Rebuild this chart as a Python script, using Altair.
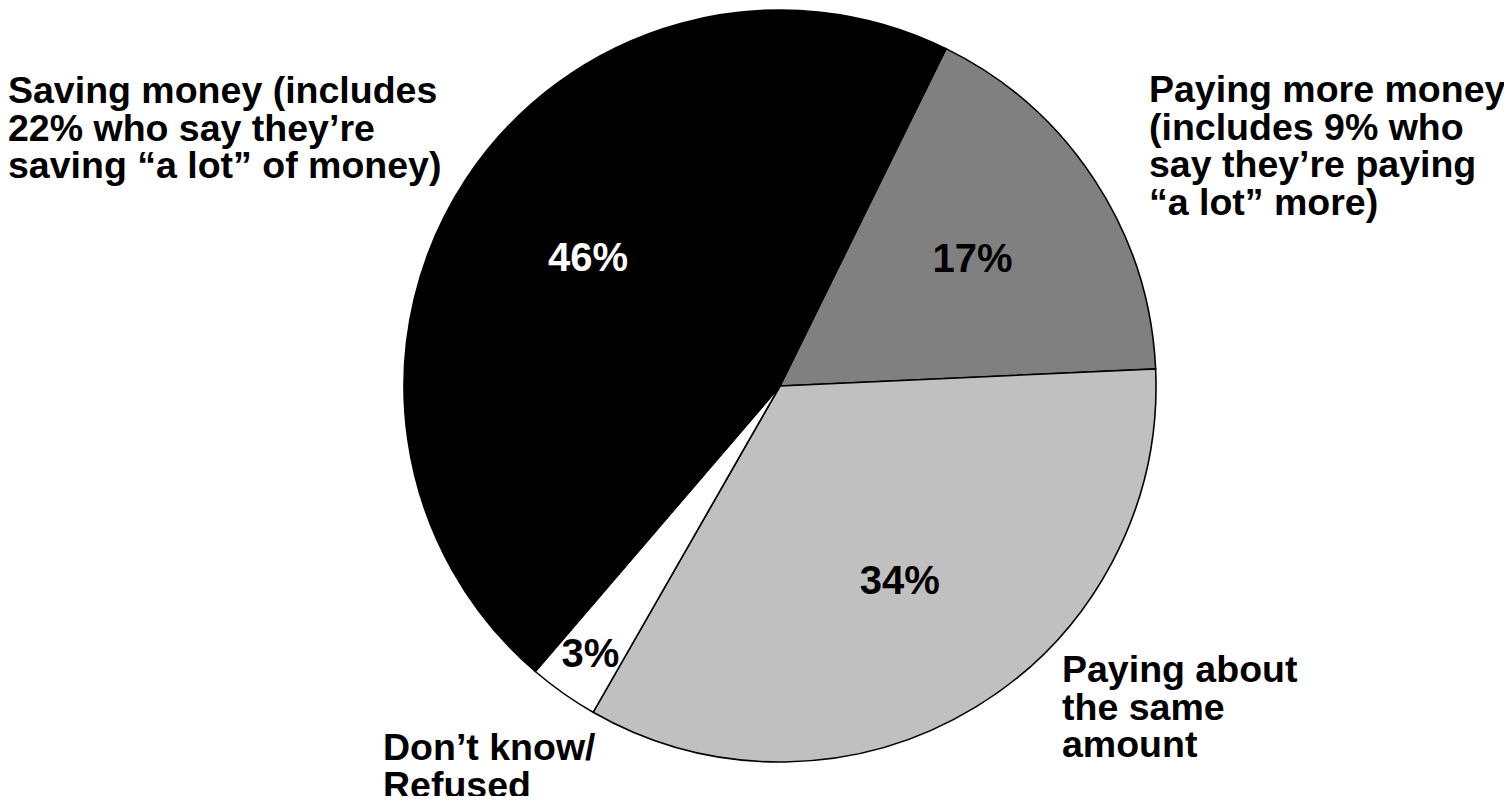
import math
import altair as alt
import pandas as pd

# Slice data (clockwise from the top-right boundary)
categories = ["Paying more money", "Paying about the same", "Don't know/Refused", "Saving money"]
values = [17, 34, 3, 46]
pct_labels = ["17%", "34%", "3%", "46%"]
fill_colors = ["#808080", "#C0C0C0", "#FFFFFF", "#000000"]

# Annotation texts
label_saving = ["Saving money (includes", "22% who say they\u2019re", "saving \u201ca lot\u201d of money)"]
label_more = ["Paying more money", "(includes 9% who", "say they\u2019re paying", "\u201ca lot\u201d more)"]
label_same = ["Paying about", "the same", "amount"]
label_dk = ["Don\u2019t know/", "Refused"]

df = pd.DataFrame({
    "cat": categories,
    "value": values,
    "label": pct_labels,
    "idx": list(range(len(categories))),
})

start = math.radians(26.2)
theta_scale = alt.Scale(domain=[0, 100], range=[start, start + 2 * math.pi])
FONT = "Liberation Sans"

CX, CY = 772, 378

base = alt.Chart(df)

pie = base.mark_arc(outerRadius=376, stroke="black", strokeWidth=1.6).encode(
    theta=alt.Theta("value:Q", stack=True, scale=theta_scale),
    order=alt.Order("idx:Q"),
    color=alt.Color("cat:N", scale=alt.Scale(domain=categories, range=fill_colors), legend=None),
    x=alt.value(CX),
    y=alt.value(CY),
)

pct = base.transform_window(
    cum="sum(value)", sort=[alt.SortField("idx")], frame=[None, 0]
).transform_calculate(
    mid="datum.cum - datum.value / 2",
    r="datum.value < 5 ? 329 : 230",
).mark_text(font=FONT, fontWeight="bold", fontSize=40, align="center", baseline="middle").encode(
    theta=alt.Theta("mid:Q", stack=None, scale=theta_scale),
    radius=alt.Radius("r:Q", scale=None),
    text=alt.Text("label:N"),
    color=alt.condition(alt.datum.value > 40, alt.value("white"), alt.value("black")),
    x=alt.value(CX),
    y=alt.value(CY),
)


def annot(lines, x, y):
    return alt.Chart(pd.DataFrame({"t": [lines]})).mark_text(
        font=FONT, fontWeight="bold", fontSize=37.5, align="left", baseline="alphabetic",
        lineHeight=37.5, color="black",
    ).encode(text="t", x=alt.value(x), y=alt.value(y))


chart = alt.layer(
    pie,
    pct,
    annot(label_saving, 0, 95),
    annot(label_more, 1141, 94),
    annot(label_same, 1054, 674),
    annot(label_dk, 375, 752),
).properties(
    width=1496, height=788, autosize=alt.AutoSizeParams(type="none"), padding=0
).configure_view(stroke=None)

chart.save("out.html", embed_options={"renderer": "svg", "actions": False})
